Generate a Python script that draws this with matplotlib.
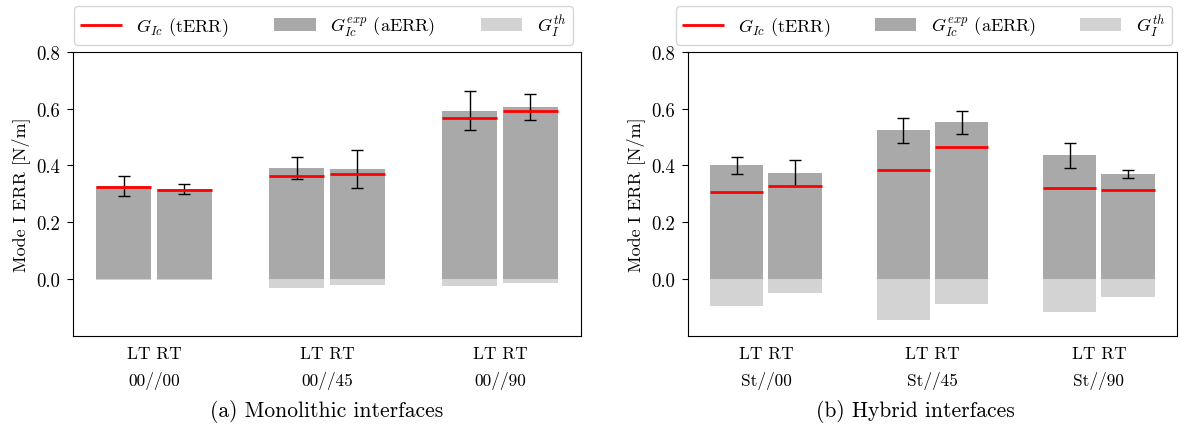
import numpy as np
import matplotlib
matplotlib.use("Agg")
import matplotlib.pyplot as plt

# interfaces (left panel: monolithic, right panel: hybrid)
groups_a = ["00//00", "00//45", "00//90"]
groups_b = ["St//00", "St//45", "St//90"]

# apparent ERR from experiments (grey bars) and their scatter
aerr_a_lt = [0.326, 0.391, 0.592]
aerr_a_rt = [0.317, 0.387, 0.606]
err_a_lt = [0.035, 0.039, 0.068]
err_a_rt = [0.018, 0.067, 0.045]
aerr_b_lt = [0.401, 0.523, 0.436]
aerr_b_rt = [0.373, 0.551, 0.370]
err_b_lt = [0.030, 0.043, 0.044]
err_b_rt = [0.045, 0.039, 0.013]

# true ERR (red lines)
terr_a_lt = [0.325, 0.361, 0.568]
terr_a_rt = [0.314, 0.369, 0.592]
terr_b_lt = [0.307, 0.384, 0.321]
terr_b_rt = [0.326, 0.465, 0.312]

# thermal contribution (light bars, negative)
th_a_lt = [-0.003, -0.032, -0.023]
th_a_rt = [-0.003, -0.020, -0.013]
th_b_lt = [-0.094, -0.142, -0.117]
th_b_rt = [-0.048, -0.086, -0.062]

DARK = "#a9a9a9"
LIGHT = "#d3d3d3"

plt.rcParams["font.family"] = "serif"
plt.rcParams["font.serif"] = ["cmr10", "DejaVu Serif"]
plt.rcParams["mathtext.fontset"] = "cm"
plt.rcParams["axes.formatter.use_mathtext"] = True
plt.rcParams["font.size"] = 12.5


def draw_panel(ax, groups, aerr_lt, aerr_rt, err_lt, err_rt, terr_lt, terr_rt, th_lt, th_rt):
    x = np.arange(len(groups))
    w = 0.32
    handles = None
    for off, aerr, err, terr, th in [
        (-0.175, aerr_lt, err_lt, terr_lt, th_lt),
        (0.175, aerr_rt, err_rt, terr_rt, th_rt),
    ]:
        xs = x + off
        b1 = ax.bar(xs, aerr, width=w, color=DARK, zorder=1)
        b2 = ax.bar(xs, th, width=w, color=LIGHT, zorder=1)
        ax.errorbar(xs, aerr, yerr=err, fmt="none", ecolor="black", elinewidth=1,
                    capsize=4.5, capthick=1, zorder=2)
        ln = ax.hlines(terr, xs - w / 2, xs + w / 2, color="red", linewidth=2, zorder=3)
        handles = (ln, b1, b2)
    ax.set_ylim(-0.2, 0.8)
    ax.set_yticks([0.0, 0.2, 0.4, 0.6, 0.8])
    ax.set_yticklabels(["0.0", "0.2", "0.4", "0.6", "0.8"])
    ax.set_xticks(x)
    ax.set_xticklabels([f"LT RT\n{g}" for g in groups])
    for t in ax.get_xticklabels():
        t.set_linespacing(1.7)
    ax.tick_params(axis="x", length=0, pad=7, labelsize=12.5)
    ax.tick_params(axis="y", length=4.5, pad=4.5, labelsize=13.5)
    ax.set_ylabel("Mode I ERR [N/m]", fontsize=13, labelpad=5)
    return handles


fig = plt.figure(figsize=(12, 4.35), dpi=100)
ax_a = fig.add_axes([0.0608, 0.2253, 0.4234, 0.6536])
ax_b = fig.add_axes([0.5733, 0.2253, 0.4075, 0.6536])

labels = [r"$G_{Ic}$ (tERR)", r"$G_{Ic}^{exp}$ (aERR)", r"$G_{I}^{th}$"]
h = draw_panel(ax_a, groups_a, aerr_a_lt, aerr_a_rt, err_a_lt, err_a_rt,
               terr_a_lt, terr_a_rt, th_a_lt, th_a_rt)
fig.legend(h, labels, loc="lower left", bbox_to_anchor=(0.0617, 0.895, 0.4158, 0.05),
           mode="expand", ncol=3, borderaxespad=0, handlelength=2.3, fontsize=13,
           borderpad=0.35)
h = draw_panel(ax_b, groups_b, aerr_b_lt, aerr_b_rt, err_b_lt, err_b_rt,
               terr_b_lt, terr_b_rt, th_b_lt, th_b_rt)
fig.legend(h, labels, loc="lower left", bbox_to_anchor=(0.5633, 0.895, 0.4134, 0.05),
           mode="expand", ncol=3, borderaxespad=0, handlelength=2.3, fontsize=13,
           borderpad=0.35)

fig.text(0.2725, 0.055, "(a) Monolithic interfaces", ha="center", va="center", fontsize=15.5)
fig.text(0.7625, 0.055, "(b) Hybrid interfaces", ha="center", va="center", fontsize=15.5)

fig.savefig("out.png", dpi=100)
